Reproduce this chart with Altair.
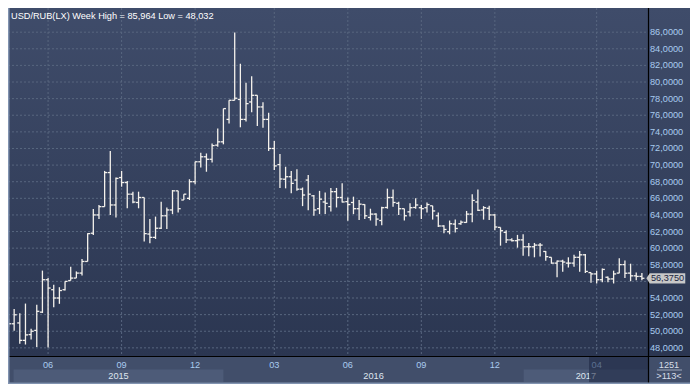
import altair as alt
import pandas as pd

# ---------------- data ----------------
weeks = [d.strftime("%Y-%m-%d") for d in pd.date_range("2015-04-13", periods=113, freq="7D")]

opens = [51.0, 50.9, 51.0, 48.9, 49.6, 50.1, 52.3, 56.2, 55.0, 54.0,
         55.0, 56.1, 56.4, 57.0, 58.4, 61.8, 64.0, 65.0, 69.1, 65.2,
         68.5, 67.9, 66.5, 65.5, 66.1, 61.7, 61.3, 62.4, 63.9, 64.6,
         66.9, 65.8, 66.0, 68.0, 70.4, 71.0, 70.7, 72.4, 72.8, 75.5,
         77.8, 77.9, 75.5, 77.6, 78.4, 77.0, 75.5, 72.0, 70.06, 68.3,
         68.6, 68.2, 67.1, 68.2, 66.3, 64.75, 65.56, 65.0, 66.8, 66.1,
         65.6, 65.5, 64.75, 65.25, 63.7, 64.1, 63.33, 64.9, 66.1, 65.4,
         64.75, 64.37, 64.9, 64.87, 64.87, 65.1, 63.9, 62.67, 61.98, 62.9,
         62.94, 63.1, 64.1, 65.56, 64.6, 64.8, 64.0, 62.5, 61.9, 61.0,
         60.9, 61.0, 60.17, 60.17, 60.37, 59.6, 58.9, 58.2, 58.44, 58.2,
         58.2, 58.9, 59.2, 57.06, 56.9, 56.2, 56.5, 56.3, 57.0, 58.02,
         57.0, 56.67, 56.6]
highs = [51.5, 52.67, 52.17, 53.33, 50.3, 53.2, 57.3, 56.4, 55.6, 55.3,
         56.0, 57.75, 57.2, 58.7, 61.8, 64.7, 65.2, 69.3, 71.7, 68.5,
         69.3, 68.1, 66.8, 66.8, 66.1, 63.5, 63.8, 65.6, 64.9, 67.0,
         66.9, 66.5, 68.3, 70.4, 71.5, 71.4, 72.6, 74.4, 76.8, 77.8,
         85.964, 82.2, 79.9, 80.7, 78.4, 77.55, 76.3, 72.9, 71.33, 69.8,
         69.3, 69.5, 67.3, 68.8, 66.4, 66.9, 66.7, 67.25, 67.25, 67.8,
         66.1, 66.2, 65.8, 65.3, 64.75, 64.2, 65.0, 67.17, 67.06, 65.6,
         64.75, 65.4, 66.0, 65.2, 65.5, 65.1, 64.3, 62.75, 63.33, 63.44,
         63.33, 64.48, 66.48, 67.06, 65.06, 65.1, 64.1, 62.5, 62.17, 61.2,
         61.6, 61.67, 60.63, 60.63, 60.63, 59.67, 58.9, 58.52, 58.6, 58.9,
         59.2, 59.67, 59.3, 57.06, 57.29, 57.56, 56.6, 57.29, 58.8, 58.52,
         58.13, 57.06, 57.0]
lows = [50.5, 50.06, 48.5, 48.4, 49.0, 48.1, 52.2, 48.032, 52.9, 53.3,
        54.9, 56.1, 56.4, 56.7, 58.4, 61.6, 63.5, 65.0, 64.0, 63.7,
        67.4, 64.8, 65.4, 64.8, 60.8, 60.6, 61.1, 62.3, 62.3, 64.1,
        64.3, 65.8, 65.8, 67.7, 69.7, 69.2, 70.3, 72.2, 72.5, 75.0,
        77.8, 74.55, 75.25, 76.35, 74.7, 74.5, 71.7, 69.4, 67.25, 67.2,
        66.6, 66.9, 65.06, 64.56, 63.9, 64.1, 64.1, 64.4, 64.9, 65.5,
        63.3, 64.1, 63.4, 63.5, 63.33, 62.7, 62.75, 64.75, 64.98, 64.0,
        63.33, 63.8, 64.75, 63.5, 64.3, 63.44, 62.55, 61.8, 61.67, 61.9,
        62.83, 63.06, 63.13, 64.48, 63.44, 63.4, 62.17, 60.3, 60.63, 60.8,
        60.06, 59.1, 59.02, 58.9, 59.0, 58.5, 58.13, 56.5, 57.17, 57.67,
        57.75, 57.17, 57.0, 55.83, 55.75, 55.9, 55.9, 55.75, 56.98, 56.4,
        56.02, 56.13, 56.13]
closes = [50.9, 51.98, 48.9, 49.56, 50.0, 52.4, 56.2, 55.2, 54.0, 54.9,
          56.0, 56.4, 57.0, 58.4, 61.75, 64.0, 65.0, 69.1, 65.2, 68.4,
          67.9, 66.5, 65.55, 66.1, 61.75, 61.3, 62.4, 63.9, 64.6, 66.9,
          64.75, 66.5, 68.0, 70.4, 71.0, 70.7, 72.35, 72.8, 76.8, 77.8,
          78.05, 75.5, 77.4, 78.4, 77.0, 75.5, 72.0, 69.9, 68.33, 68.6,
          67.8, 67.1, 66.4, 66.5, 64.6, 65.9, 65.4, 66.8, 66.1, 65.56,
          65.25, 64.75, 65.3, 63.9, 64.1, 63.5, 64.87, 66.1, 65.5, 64.75,
          63.9, 64.87, 65.2, 64.75, 65.25, 64.48, 62.67, 62.25, 62.94, 62.37,
          63.13, 64.1, 65.75, 64.56, 64.87, 64.0, 62.55, 62.1, 61.0, 60.9,
          61.0, 60.17, 60.17, 60.37, 60.37, 58.98, 58.2, 58.44, 58.33, 58.2,
          58.9, 59.2, 57.2, 56.9, 56.2, 57.44, 56.29, 56.9, 58.02, 56.98,
          56.67, 56.6, 56.375]

month_idx = [7, 20, 33, 47, 60, 73, 86, 104]
month_labels = ["06", "09", "12", "03", "06", "09", "12", "04"]
year_labels = ["2015", "2016", "2017"]
year_start = [0.9, 38.0, 91.1]
year_end = [38.0, 91.1, 113.08]
y_ticks = list(range(48, 88, 2))
footer_top = "1251"
footer_bottom = ">" + str(len(weeks)) + "<"

def comma(v, n):
    return f"{v:.{n}f}".replace(".", ",")

title_text = f"USD/RUB(LX) Week High = {comma(max(highs), 3)} Low = {comma(min(lows), 3)}"

# ---------------- layout / style ----------------
W, H = 640, 348
RIGHT, BOTTOM = 42, 28
FONT = "Liberation Sans"
FS = 9.2
BAR = "#f5f2ec"
GRID = "#58667f"
LBL = "#a9cbef"
PANEL = "#414e6a"
BAND = "#4d5b78"

df = pd.DataFrame({"week": weeks, "i": range(len(weeks)), "open": opens,
                   "high": highs, "low": lows, "close": closes})
df_y = pd.DataFrame({"v": y_ticks})
df_m = pd.DataFrame({"i": month_idx, "lab": month_labels})
df_yr = pd.DataFrame({"lab": year_labels, "s": year_start, "e": year_end,
                      "k": range(len(year_labels))})
df_last = pd.DataFrame({"v": [closes[-1]], "lab": [comma(closes[-1], 4)]})
one = alt.Data(values=[{"a": 1}])

xs = alt.Scale(domain=[-0.087, 113.08], nice=False, zero=False)
ys = alt.Scale(domain=[47.02, 88.91], nice=False, zero=False)

grad = alt.Gradient(gradient="linear", x1=0, x2=0, y1=0, y2=1,
                    stops=[alt.GradientStop(color="#3f4c6a", offset=0),
                           alt.GradientStop(color="#2b3651", offset=1)])

bg = alt.Chart(one).mark_rect(color=grad).encode(
    x=alt.value(0), x2=alt.value(W + RIGHT), y=alt.value(0), y2=alt.value(H))

ygrid = alt.Chart(df_y).mark_rule(color=GRID, strokeDash=[2, 2], strokeWidth=1).encode(
    y=alt.Y("v:Q", scale=ys, axis=None), x=alt.value(0), x2=alt.value(W))
xgrid = alt.Chart(df_m).mark_rule(color=GRID, strokeDash=[2, 2], strokeWidth=1).encode(
    x=alt.X("i:Q", scale=xs, axis=None), y=alt.value(0), y2=alt.value(H))

base = alt.Chart(df).transform_calculate(xo="datum.i - 0.45", xc="datum.i + 0.45")
hl = base.mark_rule(color=BAR, strokeWidth=1.3, clip=True).encode(
    x=alt.X("i:Q", scale=xs, axis=None), y=alt.Y("low:Q", scale=ys, axis=None), y2="high:Q")
op = base.mark_rule(color=BAR, strokeWidth=1.3, clip=True).encode(
    x=alt.X("xo:Q", scale=xs, axis=None), x2="i:Q", y=alt.Y("open:Q", scale=ys, axis=None))
cl = base.mark_rule(color=BAR, strokeWidth=1.3, clip=True).encode(
    x=alt.X("i:Q", scale=xs, axis=None), x2="xc:Q", y=alt.Y("close:Q", scale=ys, axis=None))

title = alt.Chart(one).mark_text(text=title_text, align="left", baseline="middle",
                                 color="#ffffff", font=FONT, fontSize=FS).encode(
    x=alt.value(3), y=alt.value(8))

# y labels; the one hidden behind the last-price tag is left out
ylab = alt.Chart(df_y).transform_filter(
    f"abs(datum.v - {closes[-1]}) > 1.1").transform_calculate(
    lab="replace(format(datum.v, '.4f'), '.', ',')").mark_text(
    align="left", baseline="middle", color=LBL, font=FONT, fontSize=FS).encode(
    x=alt.value(W + 2), y=alt.Y("v:Q", scale=ys, axis=None), text="lab:N")

bands = alt.Chart(df_yr).transform_filter("datum.k % 2 == 0").mark_rect(color=BAND).encode(
    x=alt.X("s:Q", scale=xs, axis=None), x2="e:Q",
    y=alt.value(H + 13.5), y2=alt.value(H + 26))

mlab = alt.Chart(df_m).mark_text(align="center", baseline="middle", color=LBL,
                                 font=FONT, fontSize=FS).encode(
    x=alt.X("i:Q", scale=xs, axis=None), y=alt.value(H + 8.5), text="lab:N")

ylabs = alt.Chart(df_yr).transform_calculate(mid="(datum.s + datum.e) / 2").mark_text(
    align="center", baseline="middle", color="#dfe6ef", font=FONT, fontSize=FS).encode(
    x=alt.X("mid:Q", scale=xs, axis=None), y=alt.value(H + 19.5), text="lab:N")

overlay = alt.Chart(one).mark_rect(color="#1b2540", opacity=0.55).encode(
    x=alt.value(581), x2=alt.value(W), y=alt.value(H), y2=alt.value(H + 26.5))

vline = alt.Chart(one).mark_rule(color="#000000", strokeWidth=1.2).encode(
    x=alt.value(W + 0.5), y=alt.value(0), y2=alt.value(H + BOTTOM))
hline = alt.Chart(one).mark_rule(color="#000000", strokeWidth=1.2).encode(
    y=alt.value(H + 0.5), x=alt.value(0), x2=alt.value(W + RIGHT))
lborder = alt.Chart(one).mark_rule(color="#8193b0", strokeWidth=1.5).encode(
    x=alt.value(0.75), y=alt.value(0), y2=alt.value(H + BOTTOM))
bborder = alt.Chart(one).mark_rule(color="#8193b0", strokeWidth=1.5).encode(
    y=alt.value(H + BOTTOM - 0.75), x=alt.value(0), x2=alt.value(W + RIGHT))

ft1 = alt.Chart(one).mark_text(text=footer_top, align="center", baseline="middle",
                               color="#d6dde8", font=FONT, fontSize=FS).encode(
    x=alt.value(W + 21), y=alt.value(H + 8.5))
ftline = alt.Chart(one).mark_rule(color="#b8c2d2", strokeWidth=0.8).encode(
    y=alt.value(H + 14), x=alt.value(W + 9), x2=alt.value(W + 34))
ft2 = alt.Chart(one).mark_text(text=footer_bottom, align="center", baseline="middle",
                               color="#d6dde8", font=FONT, fontSize=FS).encode(
    x=alt.value(W + 21), y=alt.value(H + 19.5))

tag = alt.Chart(df_last).mark_point(
    shape="M-1.19,0L-1,-0.29L1,-0.29L1,0.29L-1,0.29Z", size=1260, filled=True,
    fill="#c8c8c8", opacity=1, strokeWidth=0).encode(
    x=alt.value(W + 19.5), y=alt.Y("v:Q", scale=ys, axis=None))
tagtxt = alt.Chart(df_last).mark_text(align="center", baseline="middle", color="#1c2540",
                                      font=FONT, fontSize=FS).encode(
    x=alt.value(W + 19.5), y=alt.Y("v:Q", scale=ys, axis=None), text="lab:N")

chart = alt.layer(
    bg, ygrid, xgrid, hl, op, cl, title, ylab, bands, mlab, ylabs, overlay,
    vline, hline, lborder, bborder, ft1, ftline, ft2, tag, tagtxt
).properties(
    width=W, height=H, autosize="none",
    padding={"left": 0, "top": 0, "right": RIGHT, "bottom": BOTTOM},
    background=PANEL
).configure_view(stroke=None)

chart.save("out.html", embed_options={"renderer": "svg", "actions": False})
